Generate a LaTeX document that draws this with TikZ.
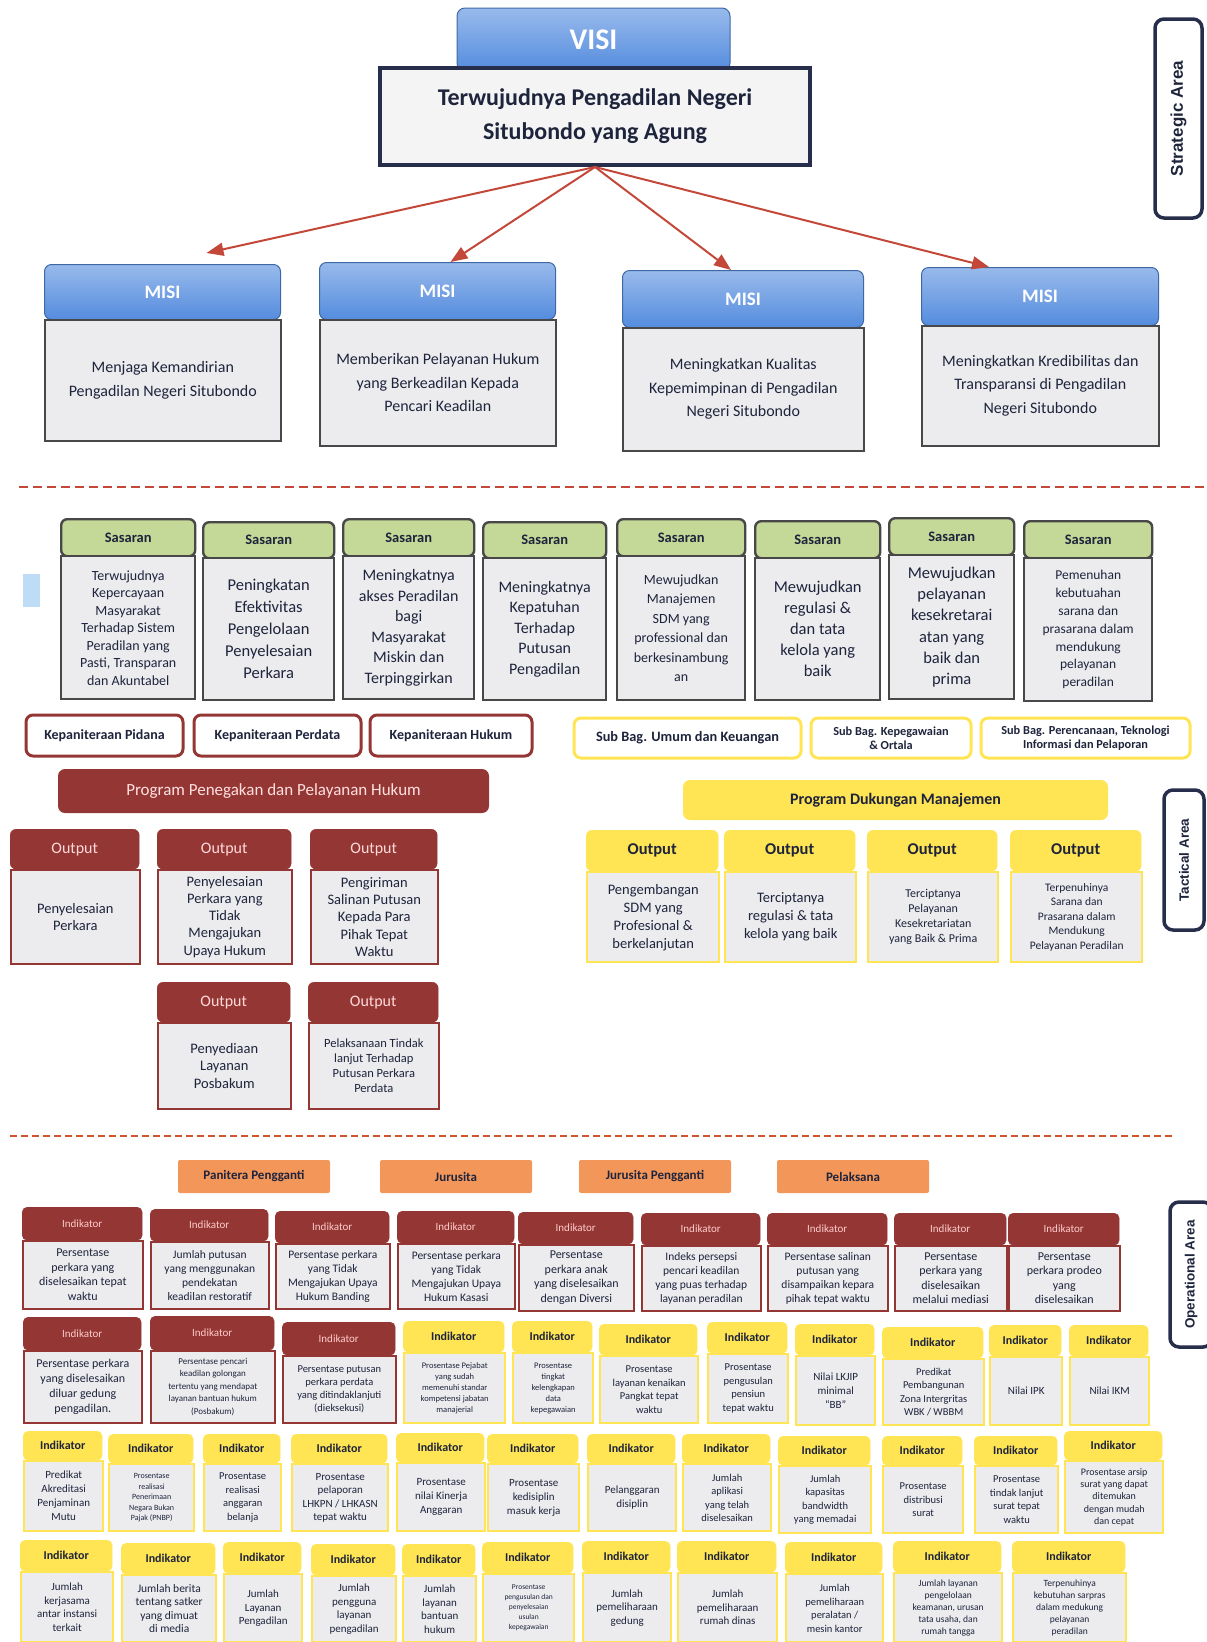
\documentclass[tikz,border=0pt]{standalone}
\usepackage{fontspec}
\setmainfont{Carlito}
\newfontfamily\areafont{Liberation Sans}
\usetikzlibrary{arrows.meta}

\definecolor{biru}{RGB}{84,140,222}
\definecolor{birutua}{RGB}{38,46,76}
\definecolor{birumuda}{RGB}{190,220,245}
\definecolor{marun}{RGB}{148,54,52}
\definecolor{hijau}{RGB}{196,216,152}
\definecolor{abu}{RGB}{236,236,238}
\definecolor{abutua}{RGB}{72,72,72}
\definecolor{kuning}{RGB}{255,228,84}
\definecolor{oranye}{RGB}{243,150,90}
\definecolor{teks}{RGB}{30,36,60}
\definecolor{garis}{RGB}{196,72,58}

\newcommand{\ukuran}[2]{\fontsize{#1}{#2}\selectfont}
% kartu = judul di atas + isi di bawah: nama, gaya, x1, x2, atas, batas judul, bawah, opsi isi, isi
\newcommand{\kartu}[9]{%
  \node (#1h) at (#3,#5) [#2head,anchor=north west,minimum width={(#4-#3)*1pt},
    minimum height={(#6-#5)*1pt}];
  \node[#2body,anchor=north west,minimum width={(#4-#3)*1pt},
    minimum height={(#7-#6)*1pt},#8] (#1) at (#3,#6) {#9};
}

\tikzset{
  visihead/.style={draw=biru!75!black,line width=1pt,top color=biru!60!white,
    bottom color=biru,rounded corners=8pt,text=white,font=\ukuran{30}{36}\bfseries},
  visibox/.style={draw=birutua,line width=4pt,fill=abu!60!white,text=teks,
    align=center,font=\ukuran{24}{34}\bfseries},
  areatab/.style={draw=birutua,line width=3.5pt,fill=white,rounded corners=9pt,
    text=teks,font=\areafont\bfseries},
  panah/.style={draw=garis,line width=2pt,-{Triangle[length=17pt,width=13pt]}},
  pemisah/.style={draw=garis,line width=2.4pt,dash pattern=on 9pt off 5pt},
  pemisahb/.style={draw=garis!80!orange,line width=1.6pt,dash pattern=on 7pt off 4pt},
  misihead/.style={draw=biru!75!black,line width=1pt,top color=biru!60!white,
    bottom color=biru,rounded corners=7pt,text=white,font=\ukuran{19}{22}\bfseries,
    node contents=MISI},
  misibody/.style={draw=abutua,line width=1.6pt,fill=abu,text=teks,align=center,
    font=\ukuran{16}{23.5}},
  sashead/.style={draw=abutua,line width=2.4pt,fill=hijau,rounded corners=6pt,
    text=teks,font=\ukuran{14.5}{17}\bfseries,node contents=Sasaran},
  sasbody/.style={draw=abutua,line width=2.4pt,fill=abu,text=teks,align=center,
    inner sep=2pt,font=\ukuran{16}{20.5}},
  kepbox/.style={draw=marun,line width=3pt,fill=white,rounded corners=7pt,
    text=teks,align=center,font=\ukuran{14}{16}\bfseries},
  subbox/.style={draw=kuning,line width=3pt,fill=white,rounded corners=7pt,
    text=teks,align=center,font=\ukuran{14.3}{16}\bfseries},
  progm/.style={fill=marun,rounded corners=7pt,text=white!88!red,font=\ukuran{17}{20}},
  progk/.style={fill=kuning,rounded corners=7pt,text=teks,font=\ukuran{16}{19}\bfseries},
  outmhead/.style={fill=marun,draw=marun,rounded corners=6pt,text=white!85!red,
    font=\ukuran{16}{19},node contents=Output},
  outmbody/.style={draw=marun,line width=1.6pt,fill=abu,text=teks,align=center,
    font=\ukuran{14.5}{17.3}},
  outkhead/.style={fill=kuning,draw=kuning,rounded corners=6pt,text=teks,
    font=\ukuran{16.5}{19}\bfseries,node contents=Output},
  outkbody/.style={draw=kuning,line width=2.4pt,fill=abu,text=teks,align=center,
    font=\ukuran{14.5}{18}},
  petugas/.style={fill=oranye,rounded corners=2pt,text=teks,font=\ukuran{13}{15}\bfseries},
  indmhead/.style={fill=marun,draw=marun,rounded corners=5pt,text=white!80!red,
    font=\ukuran{11}{13},node contents=Indikator},
  indmbody/.style={draw=marun,line width=1.6pt,fill=abu,text=teks,align=center,
    inner sep=2pt,font=\ukuran{11.5}{14}},
  indkhead/.style={fill=kuning,draw=kuning,rounded corners=5pt,text=teks,
    font=\ukuran{12}{14}\bfseries,node contents=Indikator},
  indkbody/.style={draw=kuning,line width=2.4pt,fill=abu,text=teks,align=center,
    inner sep=2pt,font=\ukuran{10.5}{13.5}}
}

\begin{document}
\begin{tikzpicture}[x=1pt,y=-1pt]
  \useasboundingbox (0,0) rectangle (1207,1642);

  % strategic area: visi dan misi
  \node[visihead,minimum width=273pt,minimum height=63pt] (visi) at (593.5,39.5) {VISI};
  \node[visibox,minimum width=430pt,minimum height=97pt] (visitext) at (595,116.5)
    {Terwujudnya Pengadilan Negeri\\Situbondo yang Agung};
  \node[areatab,rotate=90,minimum width=199pt,minimum height=47pt,font=\areafont\bfseries\ukuran{17}{20}]
    (strategic) at (1178.5,118.5) {Strategic Area};

  \kartu{m1}{misi}{44}{280}{264}{319}{440}{}{Menjaga Kemandirian\\Pengadilan Negeri Situbondo}
  \kartu{m2}{misi}{319}{555}{262}{319}{445}{}{Memberikan Pelayanan Hukum\\yang Berkeadilan Kepada\\Pencari Keadilan}
  \kartu{m3}{misi}{622}{863}{270}{327}{450}{}{Meningkatkan Kualitas\\Kepemimpinan di Pengadilan\\Negeri Situbondo}
  \kartu{m4}{misi}{921}{1158}{267}{325}{445}{}{Meningkatkan Kredibilitas dan\\Transparansi di Pengadilan\\Negeri Situbondo}

  \draw[panah] (visitext.south) -- ([xshift=44pt,yshift=11pt]m1h.north);
  \draw[panah] (visitext.south) -- ([xshift=13pt]m2h.north);
  \draw[panah] (visitext.south) -- ([xshift=-12pt]m3h.north);
  \draw[panah] (visitext.south) -- ([xshift=-51pt]m4h.north);

  \draw[pemisah] (19,487) -- (1207,487);

  % tactical area: sasaran
  \fill[birumuda] (23,574) rectangle (40,607);
  \kartu{s1}{sas}{60}{194}{518}{555}{698}{font=\ukuran{14}{17.5}}{Terwujudnya\\Kepercayaan\\Masyarakat\\Terhadap Sistem\\Peradilan yang\\Pasti, Transparan\\dan Akuntabel}
  \kartu{s2}{sas}{202}{333}{521}{557}{699}{font=\ukuran{16.5}{22}}{Peningkatan\\Efektivitas\\Pengelolaan\\Penyelesaian\\Perkara}
  \kartu{s3}{sas}{342}{473}{518}{555}{698}{}{Meningkatnya\\akses Peradilan\\bagi\\Masyarakat\\Miskin dan\\Terpinggirkan}
  \kartu{s4}{sas}{482}{605}{521}{557}{699}{}{Meningkatnya\\Kepatuhan\\Terhadap\\Putusan\\Pengadilan}
  \kartu{s5}{sas}{616}{744}{518}{555}{699}{font=\ukuran{14}{19.5}}{Mewujudkan\\Manajemen\\SDM yang\\professional dan\\berkesinambung\\an}
  \kartu{s6}{sas}{754}{879}{520}{557}{699}{font=\ukuran{16.5}{21}}{Mewujudkan\\regulasi \&\\dan tata\\kelola yang\\baik}
  \kartu{s7}{sas}{888}{1013}{517}{554}{698}{font=\ukuran{16.5}{21.3}}{Mewujudkan\\pelayanan\\kesekretarai\\atan yang\\baik dan\\prima}
  \kartu{s8}{sas}{1023}{1151}{520}{557}{700}{font=\ukuran{13.5}{17.8}}{Pemenuhan\\kebutuahan\\sarana dan\\prasarana dalam\\mendukung\\pelayanan\\peradilan}

  % unit kerja dan program
  \node[kepbox,minimum width=157pt,minimum height=41pt] (kpidana) at (104.5,735.5) {Kepaniteraan Pidana};
  \node[kepbox,minimum width=167pt,minimum height=41pt] (kperdata) at (277.5,735.5) {Kepaniteraan Perdata};
  \node[kepbox,minimum width=162pt,minimum height=41pt] (khukum) at (451,735.5) {Kepaniteraan Hukum};
  \node[subbox,minimum width=227pt,minimum height=40pt] (sbumum) at (687.5,738) {Sub Bag. Umum dan Keuangan};
  \node[subbox,minimum width=160pt,minimum height=40pt,font=\ukuran{12.3}{14}\bfseries] (sbpeg) at (891,738) {Sub Bag. Kepegawaian\\\& Ortala};
  \node[subbox,minimum width=209pt,minimum height=40pt,font=\ukuran{12.3}{14}\bfseries] (sbren) at (1085.5,738) {Sub Bag. Perencanaan, Teknologi\\Informasi dan Pelaporan};

  \node[progm,minimum width=431pt,minimum height=44pt] (proghukum) at (273.5,791) {Program Penegakan dan Pelayanan Hukum};
  \node[progk,minimum width=425pt,minimum height=40pt] (progman) at (895.5,800) {Program Dukungan Manajemen};
  \node[areatab,rotate=90,minimum width=140pt,minimum height=40pt,font=\areafont\bfseries\ukuran{13.5}{16}]
    (tactical) at (1184,860) {Tactical Area};

  % output
  \kartu{o1}{outm}{10}{139}{829}{869}{963}{}{Penyelesaian\\Perkara}
  \kartu{o2}{outm}{157}{291}{829}{869}{963}{}{Penyelesaian\\Perkara yang\\Tidak\\Mengajukan\\Upaya Hukum}
  \kartu{o3}{outm}{310}{437}{829}{869}{963}{}{Pengiriman\\Salinan Putusan\\Kepada Para\\Pihak Tepat\\Waktu}
  \kartu{o4}{outm}{157}{290}{982}{1022}{1108}{}{Penyediaan\\Layanan\\Posbakum}
  \kartu{o5}{outm}{308}{438}{982}{1022}{1108}{font=\ukuran{12.5}{15}}{Pelaksanaan Tindak\\lanjut Terhadap\\Putusan Perkara\\Perdata}

  \kartu{p1}{outk}{586}{718}{830}{871}{961}{}{Pengembangan\\SDM yang\\Profesional \&\\berkelanjutan}
  \kartu{p2}{outk}{724}{855}{830}{871}{961}{}{Terciptanya\\regulasi \& tata\\kelola yang baik}
  \kartu{p3}{outk}{867}{997}{830}{871}{961}{font=\ukuran{12}{15}}{Terciptanya\\Pelayanan\\Kesekretariatan\\yang Baik \& Prima}
  \kartu{p4}{outk}{1010}{1141}{830}{871}{961}{font=\ukuran{11.5}{14.5}}{Terpenuhinya\\Sarana dan\\Prasarana dalam\\Mendukung\\Pelayanan Peradilan}

  \draw[pemisahb] (10,1136) -- (1172,1136);

  % operational area
  \node[petugas,minimum width=152pt,minimum height=33pt] (panitera) at (254,1176.5) {Panitera Pengganti};
  \node[petugas,minimum width=152pt,minimum height=33pt] (jurusita) at (456,1176.5) {Jurusita};
  \node[petugas,minimum width=152pt,minimum height=33pt] (jspengganti) at (655,1176.5) {Jurusita Pengganti};
  \node[petugas,minimum width=152pt,minimum height=33pt] (pelaksana) at (853,1176.5) {Pelaksana};
  \node[areatab,rotate=90,minimum width=145pt,minimum height=42pt,font=\areafont\bfseries\ukuran{13.5}{16}]
    (operational) at (1191,1274.5) {Operational Area};

  % indikator baris 1
  \kartu{i1}{indm}{22}{142}{1207}{1240}{1308}{font=\ukuran{12}{14.5}}{Persentase\\perkara yang\\diselesaikan tepat\\waktu}
  \kartu{i2}{indm}{150}{268}{1209}{1241}{1308}{}{Jumlah putusan\\yang menggunakan\\pendekatan\\keadilan restoratif}
  \kartu{i3}{indm}{275}{389}{1211}{1243}{1308}{}{Persentase perkara\\yang Tidak\\Mengajukan Upaya\\Hukum Banding}
  \kartu{i4}{indm}{397}{514}{1211}{1243}{1308}{}{Persentase perkara\\yang Tidak\\Mengajukan Upaya\\Hukum Kasasi}
  \kartu{i5}{indm}{518}{633}{1212}{1244}{1310}{font=\ukuran{12}{14.5}}{Persentase\\perkara anak\\yang diselesaikan\\dengan Diversi}
  \kartu{i6}{indm}{641}{760}{1213}{1245}{1310}{}{Indeks persepsi\\pencari keadilan\\yang puas terhadap\\layanan peradilan}
  \kartu{i7}{indm}{767}{887}{1213}{1245}{1310}{}{Persentase salinan\\putusan yang\\disampaikan kepara\\pihak tepat waktu}
  \kartu{i8}{indm}{894}{1006}{1213}{1245}{1310}{font=\ukuran{12}{14.5}}{Persentase\\perkara yang\\diselesaikan\\melalui mediasi}
  \kartu{i9}{indm}{1008}{1119}{1213}{1245}{1310}{font=\ukuran{12}{14.5}}{Persentase\\perkara prodeo\\yang\\diselesaikan}

  % indikator baris 2
  \kartu{j1}{indm}{23}{141}{1317}{1350}{1422}{font=\ukuran{12}{15}}{Persentase perkara\\yang diselesaikan\\diluar gedung\\pengadilan.}
  \kartu{j2}{indm}{150}{274}{1316}{1350}{1422}{font=\ukuran{9}{12.5}}{Persentase pencari\\keadilan golongan\\tertentu yang mendapat\\layanan bantuan hukum\\(Posbakum)}
  \kartu{j3}{indm}{282}{395}{1322}{1355}{1422}{font=\ukuran{10.5}{13}}{Persentase putusan\\perkara perdata\\yang ditindaklanjuti\\(dieksekusi)}
  \kartu{j4}{indk}{403}{504}{1321}{1352}{1422}{font=\ukuran{8.5}{11}}{Prosentase Pejabat\\yang sudah\\memenuhi standar\\kompetensi jabatan\\manajerial}
  \kartu{j5}{indk}{512}{592}{1321}{1352}{1422}{font=\ukuran{8.5}{11}}{Prosentase\\tingkat\\kelengkapan\\data\\kepegawaian}
  \kartu{j6}{indk}{599}{697}{1324}{1355}{1422}{}{Prosentase\\layanan kenaikan\\Pangkat tepat\\waktu}
  \kartu{j7}{indk}{707}{787}{1322}{1353}{1422}{}{Prosentase\\pengusulan\\pensiun\\tepat waktu}
  \kartu{j8}{indk}{795}{874}{1324}{1355}{1424}{font=\ukuran{11}{14}}{Nilai LKJIP\\minimal\\``BB''}
  \kartu{j9}{indk}{882}{983}{1327}{1358}{1424}{}{Predikat\\Pembangunan\\Zona Intergritas\\WBK / WBBM}
  \kartu{j10}{indk}{989}{1061}{1325}{1356}{1424}{font=\ukuran{11}{14}}{Nilai IPK}
  \kartu{j11}{indk}{1069}{1148}{1325}{1356}{1424}{font=\ukuran{11}{14}}{Nilai IKM}

  % indikator baris 3
  \kartu{k1}{indk}{23}{102}{1431}{1460}{1530}{font=\ukuran{11}{14}}{Predikat\\Akreditasi\\Penjaminan\\Mutu}
  \kartu{k2}{indk}{108}{193}{1434}{1463}{1530}{font=\ukuran{8}{10.5}}{Prosentase\\realisasi\\Penerimaan\\Negara Bukan\\Pajak (PNBP)}
  \kartu{k3}{indk}{203}{280}{1434}{1463}{1530}{}{Prosentase\\realisasi\\anggaran\\belanja}
  \kartu{k4}{indk}{291}{387}{1434}{1463}{1530}{font=\ukuran{11}{13.5}}{Prosentase\\pelaporan\\LHKPN / LHKASN\\tepat waktu}
  \kartu{k5}{indk}{396}{484}{1433}{1462}{1530}{font=\ukuran{11}{14}}{Prosentase\\nilai Kinerja\\Anggaran}
  \kartu{k6}{indk}{487}{578}{1434}{1463}{1530}{font=\ukuran{11}{14}}{Prosentase\\kedisiplin\\masuk kerja}
  \kartu{k7}{indk}{587}{675}{1434}{1463}{1530}{font=\ukuran{11}{14}}{Pelanggaran\\disiplin}
  \kartu{k8}{indk}{682}{770}{1434}{1463}{1530}{}{Jumlah\\aplikasi\\yang telah\\diselesaikan}
  \kartu{k9}{indk}{778}{870}{1436}{1465}{1532}{}{Jumlah\\kapasitas\\bandwidth\\yang memadai}
  \kartu{k10}{indk}{882}{962}{1436}{1465}{1532}{}{Prosentase\\distribusi\\surat}
  \kartu{k11}{indk}{974}{1057}{1436}{1465}{1532}{}{Prosentase\\tindak lanjut\\surat tepat\\waktu}
  \kartu{k12}{indk}{1064}{1162}{1431}{1460}{1532}{font=\ukuran{10}{12.2}}{Prosentase arsip\\surat yang dapat\\ditemukan\\dengan mudah\\dan cepat}

  % indikator baris 4
  \kartu{l1}{indk}{20}{112}{1540}{1571}{1641}{font=\ukuran{11}{13.5}}{Jumlah\\kerjasama\\antar instansi\\terkait}
  \kartu{l2}{indk}{121}{215}{1543}{1574}{1641}{font=\ukuran{11.5}{13.5}}{Jumlah berita\\tentang satker\\yang dimuat\\di media}
  \kartu{l3}{indk}{223}{301}{1542}{1573}{1641}{font=\ukuran{11}{13.5}}{Jumlah\\Layanan\\Pengadilan}
  \kartu{l4}{indk}{311}{395}{1544}{1575}{1641}{font=\ukuran{11}{13.5}}{Jumlah\\pengguna\\layanan\\pengadilan}
  \kartu{l5}{indk}{402}{475}{1544}{1575}{1641}{font=\ukuran{11}{13.5}}{Jumlah\\layanan\\bantuan\\hukum}
  \kartu{l6}{indk}{482}{573}{1542}{1573}{1641}{font=\ukuran{7.5}{10}}{Prosentase\\pengusulan dan\\penyelesaian\\usulan\\kepegawaian}
  \kartu{l7}{indk}{582}{670}{1541}{1572}{1641}{font=\ukuran{11}{13.5}}{Jumlah\\pemeliharaan\\gedung}
  \kartu{l8}{indk}{677}{776}{1541}{1572}{1641}{font=\ukuran{11}{13.5}}{Jumlah\\pemeliharaan\\rumah dinas}
  \kartu{l9}{indk}{785}{882}{1542}{1573}{1641}{}{Jumlah\\pemeliharaan\\peralatan /\\mesin kantor}
  \kartu{l10}{indk}{893}{1001}{1541}{1572}{1641}{font=\ukuran{9.5}{12}}{Jumlah layanan\\pengelolaan\\keamanan, urusan\\tata usaha, dan\\rumah tangga}
  \kartu{l11}{indk}{1012}{1125}{1541}{1572}{1641}{font=\ukuran{9.5}{12}}{Terpenuhinya\\kebutuhan sarpras\\dalam medukung\\pelayanan\\peradilan}
\end{tikzpicture}
\end{document}
